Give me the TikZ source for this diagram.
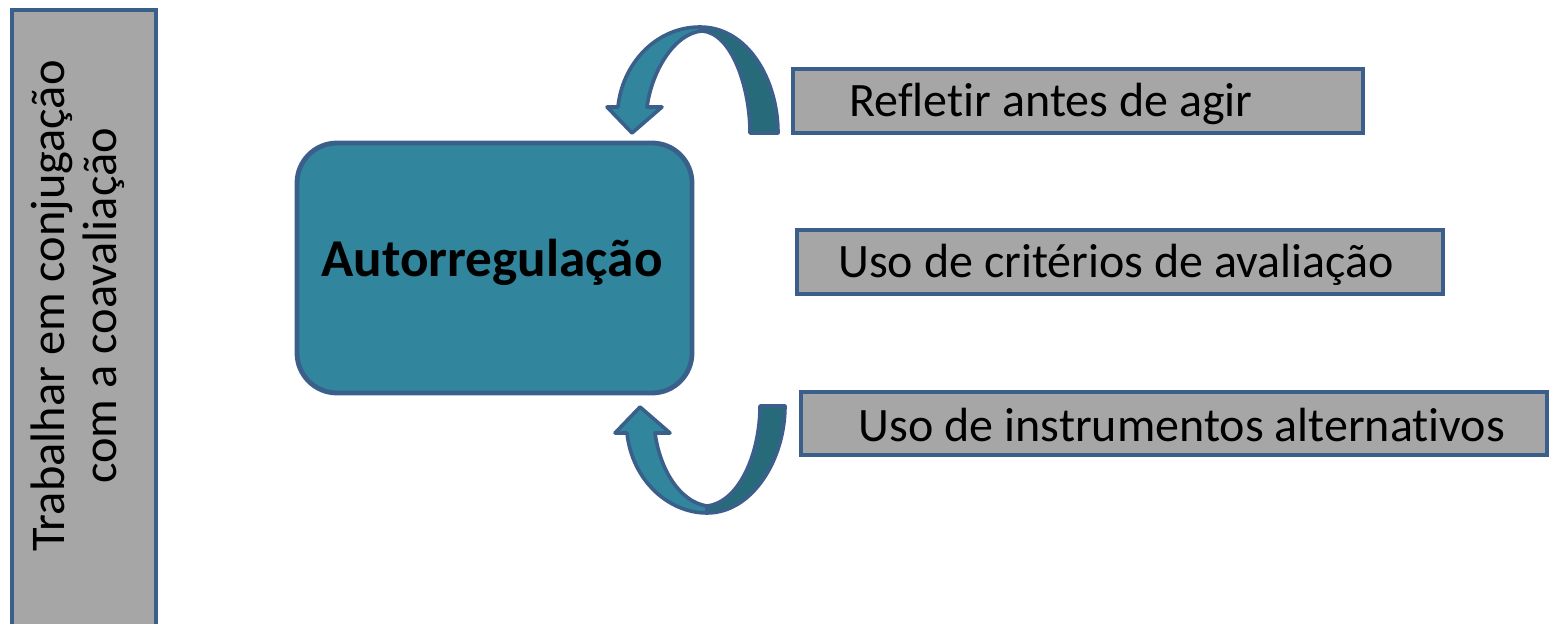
\documentclass[tikz,border=0pt]{standalone}
\usepackage{fontspec}
\setmainfont{Carlito}[Ligatures=NoCommon]
\usepackage{xcolor}
\definecolor{boxgrey}{HTML}{A6A6A6}
\definecolor{edgeblue}{HTML}{3A5F8B}
\definecolor{tealmain}{HTML}{31859C}
\definecolor{tealdark}{HTML}{276B7B}

\tikzset{
  greybox/.style={draw=edgeblue, line width=1.6pt, fill=boxgrey},
  itemtext/.style={font=\fontsize{24}{28}\selectfont, inner sep=0pt},
  bandlight/.style={draw=edgeblue, line width=1.8pt, fill=tealmain, line join=round},
  banddark/.style={draw=edgeblue, line width=1.8pt, fill=tealdark, line join=round}
}

\begin{document}
\begin{tikzpicture}[x=0.5pt, y=-0.5pt]
        \useasboundingbox (0,0) rectangle (1550,624);
        % left column
        \draw[greybox] (12,10) rectangle (156,640);
        \node[rotate=90, align=center, inner sep=0pt, font=\fontsize{24.2}{26}\selectfont] (coaval) at (78,306) {Trabalhar em conjugação\\com a coavaliação};
        % central box
        \draw[draw=edgeblue, line width=2.4pt, fill=tealmain, rounded corners=20pt] (297,143) rectangle (692,393);
        \node[font=\bfseries\fontsize{26.6}{30}\selectfont, inner sep=0pt] (autor) at (492,262) {Autorregulação};
        % items on the right
        \draw[greybox] (793,69) rectangle (1363,133);
        \node[itemtext] (refletir) at (1051,104) {Refletir antes de agir};
        \draw[greybox] (797,230) rectangle (1443,294);
        \node[itemtext] (criterios) at (1116,265) {Uso de critérios de avaliação};
        \draw[greybox] (801,392) rectangle (1547,455);
        \node[itemtext] (instrum) at (1182,425) {Uso de instrumentos alternativos};
        % curved arrow, top
        \draw[banddark] (700,27) .. controls (748,27) and (778,80) .. (778,133) -- (750,133)
            .. controls (750,88) and (732,33) .. (702,31) -- cycle;
        \draw[bandlight] (700,27) .. controls (655,27) and (622,65) .. (618,107) -- (607,107)
            -- (632,133) -- (662,107) -- (647,107) .. controls (652,70) and (675,33) .. (702,31) -- cycle;
        % curved arrow, bottom
        \draw[banddark] (707,513) .. controls (752,513) and (785,460) .. (785,406) -- (760,406)
            .. controls (760,452) and (740,502) .. (707,506) -- cycle;
        \draw[bandlight] (707,513) .. controls (668,513) and (632,480) .. (627,433) -- (615,433)
            -- (640,407) -- (670,433) -- (655,433) .. controls (660,470) and (680,502) .. (707,506) -- cycle;
    \end{tikzpicture}
\end{document}
